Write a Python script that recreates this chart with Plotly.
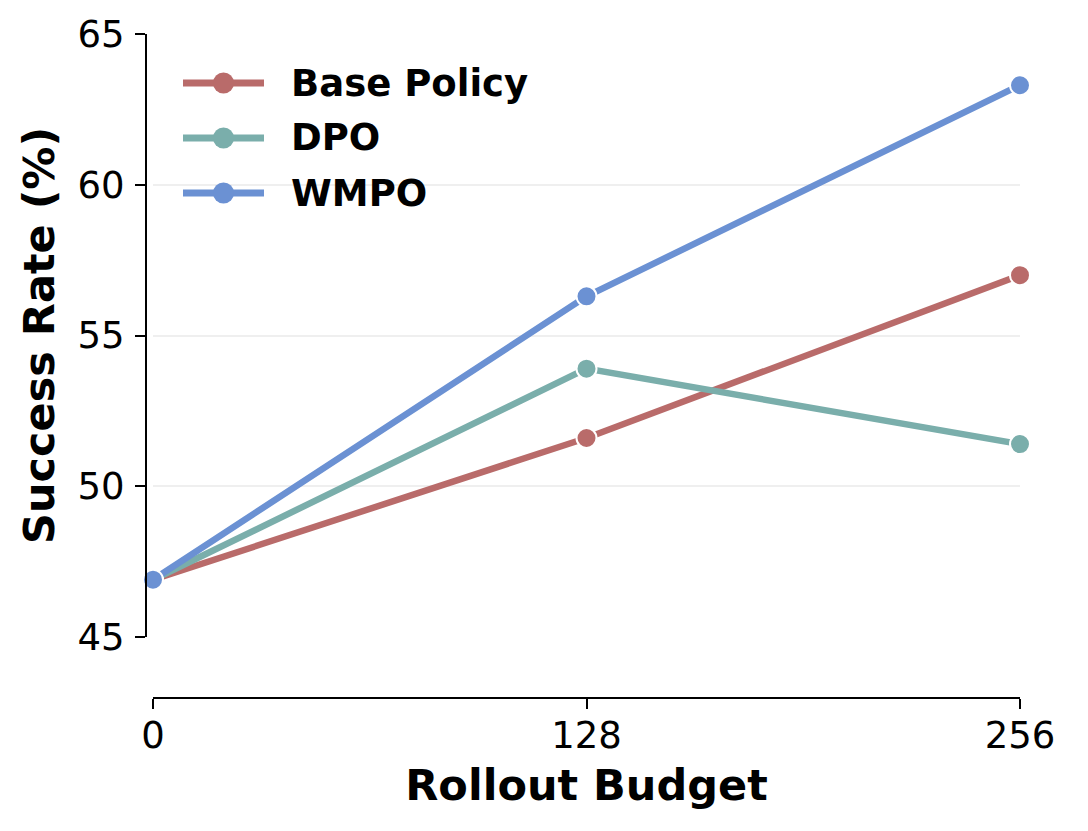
import plotly.graph_objects as go

# data
budget = [0, 128, 256]
base_policy = [46.9, 51.6, 57.0]
dpo = [46.9, 53.9, 51.4]
wmpo = [46.9, 56.3, 63.3]
yticks = [45, 50, 55, 60, 65]

names = ['Base Policy', 'DPO', 'WMPO']
colors = ['#B96B6A', '#7AAEAB', '#6B91D3']
values = [base_policy, dpo, wmpo]

font = 'DejaVu Sans'
W, H = 1088, 831
# pixel frame (figure coords, page adds 8px body margin)
left, right, top, bottom = 138, 1012, 26, 690
xstart = 145   # where the x range starts (offset spine look)
ybot = 629     # where the y range ends
pw = right - left
ph = bottom - top


def px(x):
    return (x - left) / pw


def py(y):
    return 1 - (y - top) / ph


fig = go.Figure()
for name, vals, col in zip(names, values, colors):
    fig.add_trace(
        go.Scatter(x=budget, y=vals, mode='lines+markers', name=name,
                   line=dict(color=col, width=6.5),
                   marker=dict(color=col, size=20, line=dict(color='white', width=2)),
                   cliponaxis=False, showlegend=False)
    )

# hand made legend (longer handles than plotly's own)
for i, (name, col) in enumerate(zip(names, colors)):
    ry = 75 + 55 * i
    fig.add_shape(type='line', xref='paper', yref='paper',
                  x0=px(175), x1=px(256), y0=py(ry), y1=py(ry),
                  line=dict(color=col, width=7))
    fig.add_shape(type='circle', xref='paper', yref='paper',
                  xsizemode='pixel', ysizemode='pixel',
                  xanchor=px(215.5), yanchor=py(ry),
                  x0=-10.5, x1=10.5, y0=-10.5, y1=10.5,
                  fillcolor=col, line=dict(color=col, width=0))
    fig.add_annotation(x=px(281), y=py(ry), xref='paper', yref='paper',
                       text='<b>' + name + '</b>', showarrow=False,
                       xanchor='left', yanchor='middle',
                       font=dict(family=font, size=37, color='black'))

fig.update_layout(
    width=W, height=H,
    margin=dict(l=left, r=W - right, t=top, b=H - bottom),
    plot_bgcolor='white', paper_bgcolor='white',
    font=dict(family=font, color='black'),
    showlegend=False,
    xaxis=dict(range=[0, 256], domain=[(xstart - left) / pw, 1], tickvals=budget,
               ticktext=[str(b) for b in budget], anchor='free', position=0,
               automargin=False, ticklabelstandoff=-5,
               showline=True, linecolor='black', linewidth=2,
               ticks='outside', ticklen=10, tickwidth=2, tickcolor='black',
               showgrid=False, zeroline=False,
               tickfont=dict(family=font, size=37),
               title=dict(text='<b>Rollout Budget</b>', standoff=12,
                          font=dict(family=font, size=43))),
    yaxis=dict(range=[45, 65], domain=[(bottom - ybot) / ph, 1],
               tickvals=yticks, anchor='free', position=0,
               automargin=False, ticklabelstandoff=3,
               showline=True, linecolor='black', linewidth=2,
               ticks='outside', ticklen=10, tickwidth=2, tickcolor='black',
               showgrid=True, gridcolor='#EFEFEF', gridwidth=2, zeroline=False,
               tickfont=dict(family=font, size=37),
               title=dict(text='<b>Success Rate (%)</b>', standoff=8,
                          font=dict(family=font, size=43))),
)

fig.write_html("out.html")
